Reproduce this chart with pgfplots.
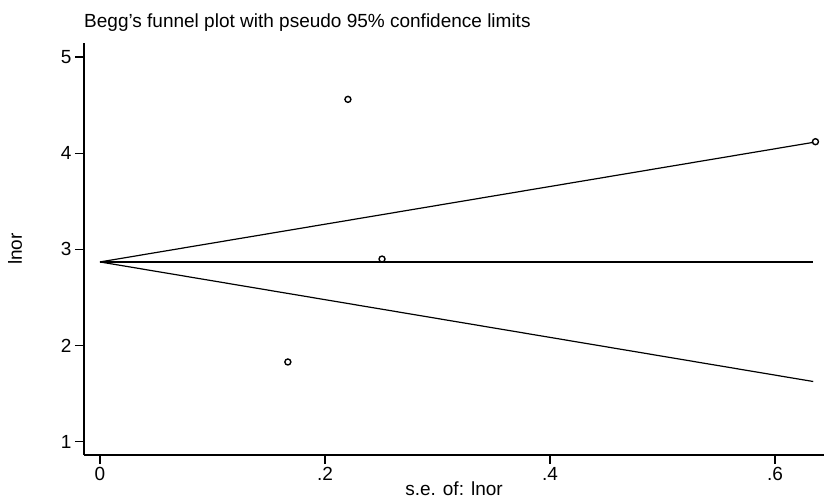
\documentclass[border=0pt]{standalone}
\usepackage{fontspec}
\setmainfont{Liberation Sans}
\usepackage{pgfplots}
\pgfplotsset{compat=1.18}
\begin{document}
\begin{tikzpicture}
\path[use as bounding box] (0,0) rectangle (824bp,500bp);
\begin{axis}[
  at={(84bp,45bp)}, anchor=south west,
  scale only axis, width=740bp, height=412bp,
  xmin=-0.01422, xmax=0.6436,
  ymin=0.863, ymax=5.146,
  axis x line=bottom, axis y line=left,
  axis line style={-, line width=1.4pt},
  tick align=outside, major tick length=9bp,
  tick style={line width=1.2pt, black},
  xtick={0,0.2,0.4,0.6}, xticklabels={0,.2,.4,.6},
  ytick={1,2,3,4,5},
  /pgf/number format/assume math mode=true,
  tick label style={font=\fontsize{19bp}{22bp}\selectfont},
  label style={font=\fontsize{19bp}{22bp}\selectfont},
  xlabel={s.e. of: lnor},
  ylabel={lnor},
  xlabel style={at={(axis description cs:0.5,-0.0995)}, anchor=base, inner sep=0pt},
  ylabel style={at={(axis description cs:-0.0932,0.5)}, anchor=center, inner sep=0pt},
  clip=false,
]
\addplot[black, line width=1.2pt, mark=none] coordinates {(0,2.87) (0.634,4.113)};
\addplot[black, line width=1.2pt, mark=none] coordinates {(0,2.87) (0.634,1.627)};
\addplot[black, line width=1.2pt, mark=none] coordinates {(0,2.87) (0.634,2.87)};
\addplot[only marks, mark=o, mark size=3bp, mark options={line width=1.4pt, black, fill=white}] coordinates {
 (0.2204,4.56) (0.2507,2.90) (0.167,1.83) (0.636,4.12)
};
\node[anchor=base west, font=\fontsize{19bp}{22bp}\selectfont, inner sep=0pt] at ([yshift=15.5bp]rel axis cs:0,1) {Begg's funnel plot with pseudo 95\% confidence limits};
\end{axis}
\end{tikzpicture}
\end{document}
